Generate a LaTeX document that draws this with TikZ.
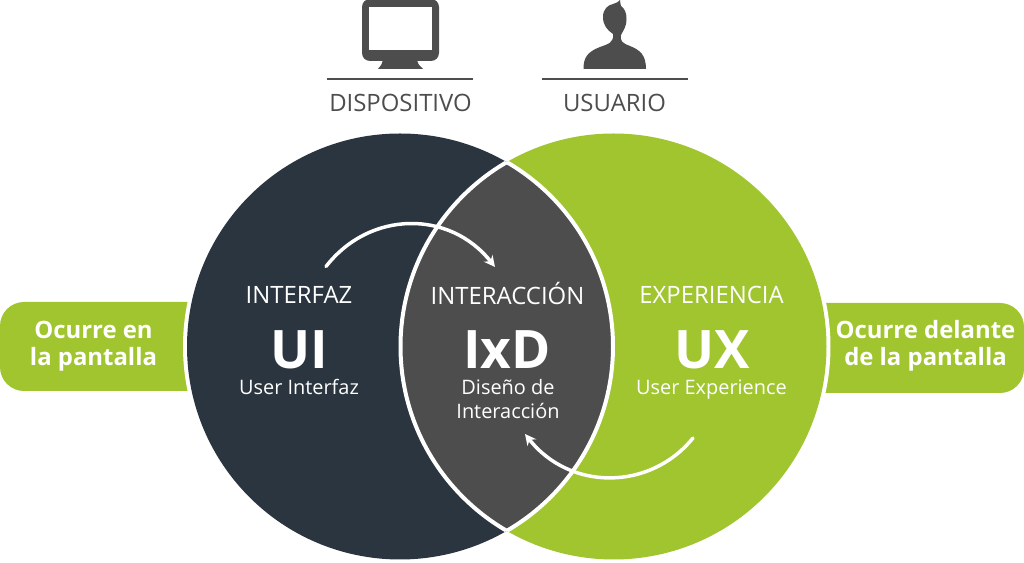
\documentclass[tikz,border=0pt]{standalone}
\usepackage{fontspec}
\setmainfont{Open Sans}
\usetikzlibrary{arrows.meta}
\definecolor{uidark}{HTML}{2B353F}
\definecolor{uxgreen}{HTML}{A0C52F}
\definecolor{ixdgrey}{HTML}{4D4D4D}
\tikzset{
	head/.style={text=ixdgrey, font=\fontsize{6.8}{7}\selectfont},
	title/.style={text=white, font=\fontsize{6.8}{7}\selectfont},
	big/.style={text=white, font=\bfseries\fontsize{15.1}{16}\selectfont},
	small/.style={text=white, align=center, font=\fontsize{5.67}{6.83}\selectfont},
	tag/.style={text=white, align=center, font=\bfseries\fontsize{6.8}{7.7}\selectfont},
	flow/.style={white, line width=0.035cm, line cap=round, -{Stealth[length=0.11cm,width=0.11cm]}}
}
\begin{document}
\begin{tikzpicture}
	\useasboundingbox (0, 0) rectangle (10.24, 5.63);

	% side tags
	\fill[uxgreen] (2.2, 2.61) -- (0.24, 2.61) arc (90:180:0.24) -- (0, 1.96) arc (180:270:0.24) -- (2.2, 1.72) -- cycle;
	\fill[uxgreen] (8.0, 2.6) -- (10.0, 2.6) arc (90:0:0.24) -- (10.24, 1.94) arc (360:270:0.24) -- (8.0, 1.7) -- cycle;
	\fill[white] (4.0, 2.165) circle (2.17);
	\fill[white] (6.135, 2.165) circle (2.17);

	% the two circles and the lens
	\fill[uidark] (4.0, 2.165) circle (2.13);
	\fill[uxgreen] (6.135, 2.165) circle (2.13);
	\begin{scope}
		\clip (4.0, 2.165) circle (2.13);
		\fill[ixdgrey] (6.135, 2.165) circle (2.13);
	\end{scope}
	\begin{scope}
		\clip (4.0, 2.165) circle (2.13);
		\draw[white, line width=0.04cm] (6.135, 2.165) circle (2.13);
	\end{scope}
	\begin{scope}
		\clip (6.135, 2.165) circle (2.13);
		\draw[white, line width=0.04cm] (4.0, 2.165) circle (2.13);
	\end{scope}

	% monitor
	\fill[ixdgrey, rounded corners=0.08cm] (3.62, 5.64) rectangle (4.39, 5.02);
	\fill[white] (3.69, 5.56) rectangle (4.32, 5.13);
	\fill[ixdgrey] (3.83, 5.03) -- (4.17, 5.03) .. controls (4.18, 4.99) .. (4.23, 4.94) -- (3.78, 4.94) .. controls (3.82, 4.99) .. cycle;
	\draw[ixdgrey, line width=0.02cm] (3.27, 4.84) -- (4.73, 4.84);

	% user
	\fill[ixdgrey] (5.835, 4.94) .. controls (5.835, 5.05) and (5.87, 5.11) .. (6.0, 5.16) .. controls (6.08, 5.19) and (6.14, 5.2) .. (6.13, 5.29) .. controls (6.07, 5.33) and (6.03, 5.38) .. (6.03, 5.46) .. controls (6.03, 5.54) and (6.08, 5.58) .. (6.13, 5.59) .. controls (6.16, 5.6) and (6.19, 5.61) .. (6.2, 5.63) .. controls (6.21, 5.6) and (6.2, 5.58) .. (6.21, 5.57) .. controls (6.25, 5.54) and (6.265, 5.5) .. (6.265, 5.44) .. controls (6.265, 5.36) and (6.23, 5.32) .. (6.21, 5.28) .. controls (6.2, 5.22) and (6.22, 5.2) .. (6.3, 5.17) .. controls (6.4, 5.13) and (6.46, 5.08) .. (6.46, 4.94) -- cycle;
	\draw[ixdgrey, line width=0.02cm] (5.42, 4.84) -- (6.88, 4.84);

	\node[head] (dispositivo) at (4.005, 4.6) {DISPOSITIVO};
	\node[head] (usuario) at (6.145, 4.6) {USUARIO};

	\node[title] (interfaz) at (2.99, 2.68) {INTERFAZ};
	\node[big] (ui) at (2.99, 2.13) {UI};
	\node[small] (uitext) at (2.99, 1.76) {User Interfaz};

	\node[title] (interaccion) at (5.075, 2.7) {INTERACCIÓN};
	\node[big] (ixd) at (5.07, 2.13) {IxD};
	\node[small] (ixdtext) at (5.08, 1.64) {Diseño de\\Interacción};

	\node[title] (experiencia) at (7.115, 2.68) {EXPERIENCIA};
	\node[big] (ux) at (7.12, 2.13) {UX};
	\node[small] (uxtext) at (7.115, 1.73) {User Experience};

	\node[tag] (tagleft) at (0.935, 2.17) {Ocurre en\\la pantalla};
	\node[tag] (tagright) at (9.255, 2.17) {Ocurre delante\\de la pantalla};

	% arrows
	\coordinate (uistart) at (3.26, 2.965);
	\coordinate (ixdend) at (4.95, 2.96);
	\coordinate (uxstart) at (6.93, 1.25);
	\coordinate (ixdback) at (5.25, 1.29);
	\draw[flow] (uistart) .. controls (3.7, 3.53) and (4.5, 3.53) .. (ixdend);
	\draw[flow] (uxstart) .. controls (6.5, 0.72) and (5.7, 0.72) .. (ixdback);
\end{tikzpicture}
\end{document}
